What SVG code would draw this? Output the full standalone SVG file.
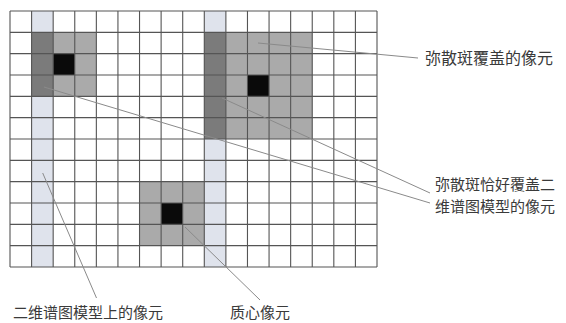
<svg xmlns="http://www.w3.org/2000/svg" width="566" height="323" viewBox="0 0 566 323">
  <style>
    .light { fill: #dfe3ec; }
    .mid { fill: #aaaaaa; }
    .dark { fill: #7b7b7b; }
    .core { fill: #0a0a0a; }
    .grid { fill: none; stroke: #555555; stroke-width: 1.1; }
    .lead { fill: none; stroke: #8a8a8a; stroke-width: 1; }
    .lbl { font-family: "Noto Sans CJK SC", "Noto Sans", sans-serif; font-size: 15.5px; fill: #3a3a3a; }
  </style>
  <rect x="0" y="0" width="566" height="323" fill="#ffffff"/>
  <g id="model-columns">
    <rect class="light" x="31.59" y="11" width="21.59" height="256"/>
    <rect class="light" x="204.29" y="11" width="21.59" height="256"/>
  </g>
  <g id="spot-1">
    <rect class="mid" x="31.59" y="32.33" width="64.76" height="64"/>
    <rect class="dark" x="31.59" y="32.33" width="21.59" height="64"/>
    <rect class="core" x="53.18" y="53.67" width="21.58" height="21.33"/>
  </g>
  <g id="spot-2">
    <rect class="mid" x="204.29" y="32.33" width="107.95" height="106.67"/>
    <rect class="dark" x="204.29" y="32.33" width="21.59" height="106.67"/>
    <rect class="core" x="247.47" y="75" width="21.59" height="21.33"/>
  </g>
  <g id="spot-3">
    <rect class="mid" x="139.53" y="181.67" width="64.76" height="64"/>
    <rect class="core" x="161.12" y="203" width="21.59" height="21.33"/>
  </g>
  <g id="grid">
    <path class="grid" d="M10 11V267M31.59 11V267M53.18 11V267M74.76 11V267M96.35 11V267M117.94 11V267M139.53 11V267M161.12 11V267M182.71 11V267M204.29 11V267M225.88 11V267M247.47 11V267M269.06 11V267M290.65 11V267M312.24 11V267M333.82 11V267M355.41 11V267M377 11V267"/>
    <path class="grid" d="M10 11H377M10 32.33H377M10 53.67H377M10 75H377M10 96.33H377M10 117.67H377M10 139H377M10 160.33H377M10 181.67H377M10 203H377M10 224.33H377M10 245.67H377M10 267H377"/>
  </g>
  <g id="connectors">
    <line class="lead" x1="258" y1="43" x2="418" y2="58"/>
    <line class="lead" x1="44" y1="87" x2="430" y2="203"/>
    <line class="lead" x1="222" y1="98" x2="430" y2="193"/>
    <line class="lead" x1="42.7" y1="173" x2="96.5" y2="298"/>
    <line class="lead" x1="185" y1="227" x2="260" y2="300"/>
  </g>
  <g id="label-spot-cover">
    <text class="lbl" x="425" y="64" style="font-size:16px">弥散斑覆盖的像元</text>
  </g>
  <g id="label-spot-exact">
    <text class="lbl" x="435" y="190" style="font-size:15px">弥散斑恰好覆盖二</text>
    <text class="lbl" x="435" y="212" style="font-size:15px">维谱图模型的像元</text>
  </g>
  <g id="label-model-pixel">
    <text class="lbl" x="13" y="317.5" style="font-size:15px">二维谱图模型上的像元</text>
  </g>
  <g id="label-centroid">
    <text class="lbl" x="230" y="317.5" style="font-size:15px">质心像元</text>
  </g>
</svg>
